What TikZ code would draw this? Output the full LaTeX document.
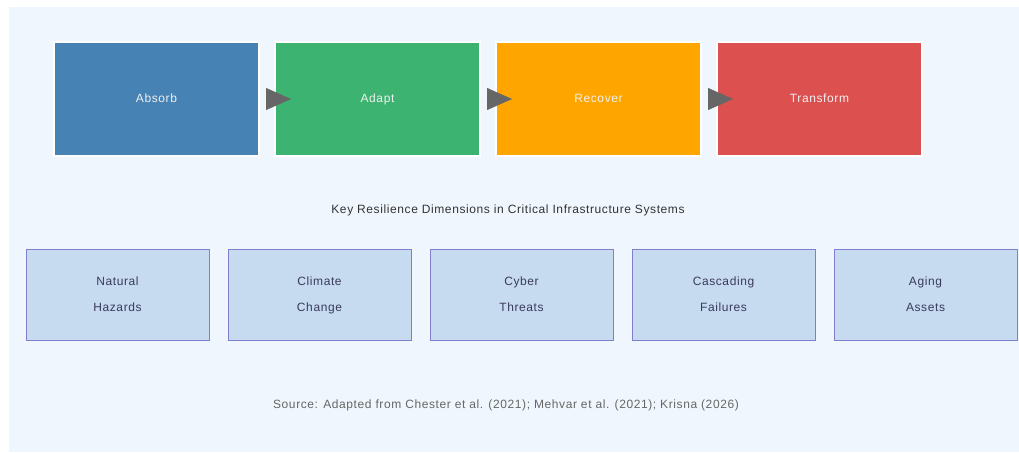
\documentclass[tikz,border=0pt]{standalone}
\usepackage{fontspec}
\setmainfont[LetterSpace=5]{Liberation Sans}
\usepackage{tikz}
\usetikzlibrary{arrows.meta, positioning}

\definecolor{panelbg}{HTML}{F0F6FD}
\definecolor{absorbblue}{HTML}{4682B4}
\definecolor{adaptgreen}{HTML}{3CB371}
\definecolor{recoverorange}{HTML}{FFA500}
\definecolor{transformred}{HTML}{DC5050}
\definecolor{dimfill}{HTML}{C6DBEF}
\definecolor{dimborder}{HTML}{7F7FCC}
\definecolor{dimtext}{HTML}{3A3A5C}
\definecolor{arrowgray}{HTML}{666666}

\begin{document}
\begin{tikzpicture}[
    x=1pt, y=-1pt,
    node distance=16pt,
    every node/.style={font=\fontsize{12}{14}\selectfont, outer sep=0pt},
    phase/.style={rectangle, draw=white, line width=2pt, text=white!94!black, text height=9pt, text depth=3pt, minimum width=205pt, minimum height=114pt},
    dimension/.style={rectangle, draw=dimborder, line width=1pt, fill=dimfill, text=dimtext, align=center, text height=35pt, text depth=2pt, minimum width=183pt, minimum height=91pt, font=\fontsize{12}{26}\selectfont},
    flowarrow/.style={-{Triangle[length=25pt, width=22pt]}, line width=0.4pt, arrowgray, shorten <=7pt, shorten >=-16pt}
]

\fill[white] (0,0) rectangle (1019,452);
\fill[panelbg] (9,7) rectangle (1019,452);

% Resilience phases
\node[phase, fill=absorbblue] (absorb) at (156.5,99) {Absorb};
\node[phase, fill=adaptgreen, right=of absorb] (adapt) {Adapt};
\node[phase, fill=recoverorange, right=of adapt] (recover) {Recover};
\node[phase, fill=transformred, right=of recover] (transform) {Transform};

\draw[flowarrow] (absorb) -- (adapt);
\draw[flowarrow] (adapt) -- (recover);
\draw[flowarrow] (recover) -- (transform);

\node[text=black!80] (title) at (508,210) {Key Resilience Dimensions in Critical Infrastructure Systems};

% Threat dimensions
\node[dimension] (hazards) at (117.5,294.5) {Natural\\Hazards};
\node[dimension, right=19pt of hazards] (climate) {Climate\\Change};
\node[dimension, right=19pt of climate] (cyber) {Cyber\\Threats};
\node[dimension, right=19pt of cyber] (cascading) {Cascading\\Failures};
\node[dimension, right=19pt of cascading] (aging) {Aging\\Assets};

\node[text=arrowgray] (source) at (506,405) {Source: Adapted from Chester et al. (2021); Mehvar et al. (2021); Krisna (2026)};

\end{tikzpicture}
\end{document}
